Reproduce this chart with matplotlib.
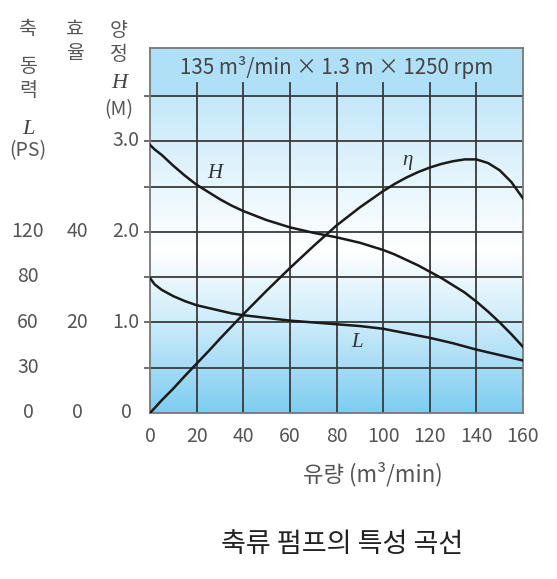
import numpy as np
import matplotlib
matplotlib.use("Agg")
from matplotlib import pyplot as plt
from matplotlib.colors import LinearSegmentedColormap

plt.rcParams['font.family'] = ['Noto Sans CJK KR', 'DejaVu Sans']

# 유량 (m3/min)
flow = [0, 2, 5, 10, 15, 20, 25, 30, 35, 40, 45, 50, 55, 60, 65, 70, 75, 80, 85, 90, 95,
        100, 105, 110, 115, 120, 125, 130, 135, 140, 145, 150, 155, 160]
# 곡선 값 (H 눈금 기준)
head = [2.96, 2.91, 2.85, 2.73, 2.62, 2.52, 2.44, 2.36, 2.29, 2.23, 2.18, 2.13, 2.09, 2.05,
        2.02, 1.99, 1.965, 1.94, 1.91, 1.88, 1.84, 1.80, 1.75, 1.69, 1.63, 1.56, 1.49,
        1.41, 1.33, 1.23, 1.12, 1.00, 0.87, 0.73]
eff = [0.0, 0.055, 0.14, 0.27, 0.41, 0.545, 0.68, 0.82, 0.955, 1.09, 1.22, 1.35, 1.475,
       1.60, 1.72, 1.84, 1.955, 2.07, 2.17, 2.27, 2.36, 2.45, 2.53, 2.60, 2.66, 2.71,
       2.75, 2.78, 2.80, 2.80, 2.76, 2.68, 2.55, 2.37]
power = [1.49, 1.42, 1.36, 1.29, 1.235, 1.19, 1.16, 1.13, 1.10, 1.08, 1.065, 1.05, 1.035,
         1.02, 1.01, 1.00, 0.99, 0.98, 0.97, 0.96, 0.945, 0.93, 0.905, 0.88, 0.855, 0.83,
         0.80, 0.77, 0.735, 0.70, 0.67, 0.64, 0.61, 0.58]

x_ticks = [0, 20, 40, 60, 80, 100, 120, 140, 160]
h_ticks = [0, 1.0, 2.0, 3.0]
h_labels = ['0', '1.0', '2.0', '3.0']
eff_pos = [0, 1.0, 2.0]
eff_labels = ['0', '20', '40']
pow_pos = [0, 0.5, 1.0, 1.5, 2.0]
pow_labels = ['0', '30', '60', '80', '120']

W, H = 557, 579
fig = plt.figure(figsize=(W / 100, H / 100), dpi=100)


def px(x, y):
    return x / W, 1 - y / H


ax = fig.add_axes([150 / W, 166 / H, 373 / W, 365 / H])
ymax = 4.03
ax.set_xlim(0, 160)
ax.set_ylim(0, ymax)

# 배경 그라데이션
stops = [(0.0, '#7dcdf1'), (0.5 / ymax, '#a6dcf5'), (1.0 / ymax, '#cdecfa'),
         (1.8 / ymax, '#ffffff'), (2.5 / ymax, '#e8f6fd'), (3.5 / ymax, '#c4e8f9'),
         (3.501 / ymax, '#b0e0f7'), (1.0, '#b0e0f7')]
cmap = LinearSegmentedColormap.from_list('bg', stops)
grad = np.linspace(0, 1, 400).reshape(-1, 1)
ax.imshow(grad, extent=[0, 160, 0, ymax], origin='lower', aspect='auto', cmap=cmap, zorder=0)

# 격자
for yv in np.arange(0.5, 3.6, 0.5):
    ax.axhline(yv, color='#3a3a3a', lw=1.3, zorder=1)
for xv in x_ticks[1:-1]:
    ax.plot([xv, xv], [0, 3.64], color='#3a3a3a', lw=1.3, zorder=1)

for ys in (head, eff, power):
    ax.plot(flow, ys, color='#1a1a1a', lw=1.8, zorder=3, solid_joinstyle='round')

serif = dict(family='Liberation Serif', style='italic', color='#333333')
ax.text(28, 2.64, 'H', fontsize=15, ha='center', va='center', **serif)
ax.text(110.5, 2.79, 'η', fontsize=15, ha='center', va='center', **serif)
ax.text(89, 0.78, 'L', fontsize=15, ha='center', va='center', **serif)

ax.text(80, 3.82, '135 m³/min × 1.3 m × 1250 rpm', fontsize=14.8, ha='center',
        va='center', color='#444444', fontweight='light')

for s in ax.spines.values():
    s.set_color('#777777')
    s.set_linewidth(1.3)
ax.set_xticks(x_ticks)
ax.set_xticklabels([str(v) for v in x_ticks], fontsize=14, color='#555555', fontweight='light')
ax.set_yticks(np.arange(0.5, 3.6, 0.5))
ax.set_yticklabels([])
ax.tick_params(axis='x', length=0, pad=9)
ax.tick_params(axis='y', length=4, width=1.2, color='#555555', direction='out')

# 왼쪽 눈금 라벨
gray = '#555555'
lab = dict(fontsize=14, color=gray, ha='center', va='center', fontweight='light')
y0, unit = 413, 90.67
for v, s in zip(h_ticks, h_labels):
    fig.text(*px(126, y0 - v * unit), s, **lab)
for v, s in zip(eff_pos, eff_labels):
    fig.text(*px(77, y0 - v * unit), s, **lab)
for v, s in zip(pow_pos, pow_labels):
    fig.text(*px(28, y0 - v * unit), s, **lab)

# 축 제목
fig.text(*px(27, 29), '축', **lab)
fig.text(*px(28, 66), '동', **lab)
fig.text(*px(28, 91), '력', **lab)
fig.text(*px(28, 130), 'L', fontsize=16, ha='center', va='center',
         family='Liberation Serif', style='italic', color='#444444')
fig.text(*px(28, 151), '(PS)', **lab)
fig.text(*px(75, 29), '효', **lab)
fig.text(*px(75, 53), '율', **lab)
fig.text(*px(119, 30), '양', **lab)
fig.text(*px(119, 54), '정', **lab)
fig.text(*px(119, 84), 'H', fontsize=16, ha='center', va='center',
         family='Liberation Serif', style='italic', color='#444444')
fig.text(*px(119, 110), '(M)', **lab)

fig.text(*px(373, 474), '유량 (m³/min)', fontsize=16, color=gray, ha='center',
         va='center', fontweight='light')
fig.text(*px(342, 544), '축류 펌프의 특성 곡선', fontsize=19.5, color='#222222',
         ha='center', va='center')

fig.savefig('out.png', dpi=100)
